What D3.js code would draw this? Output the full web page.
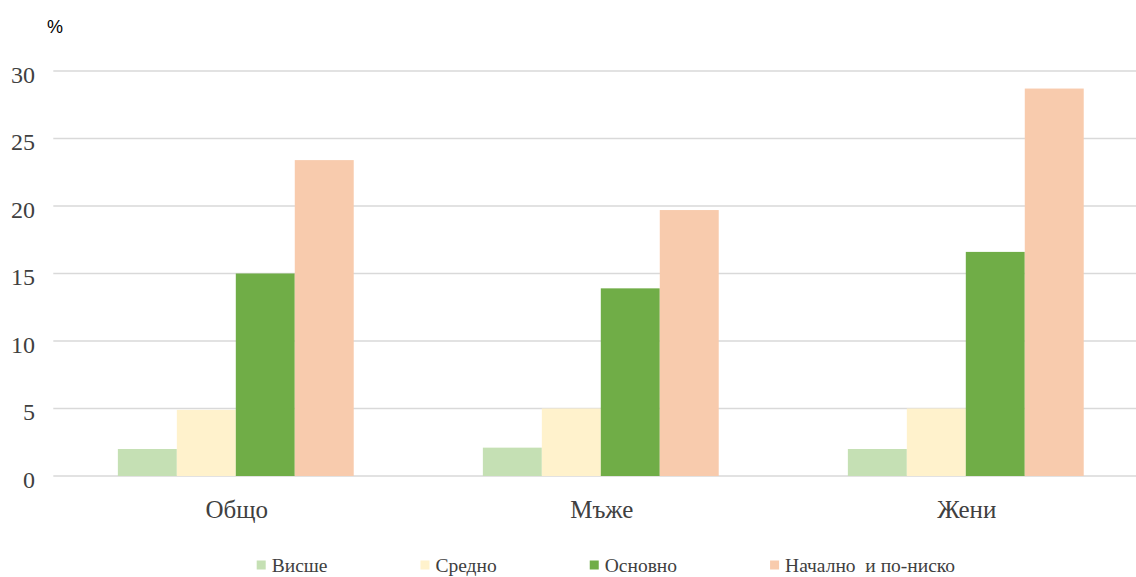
<!DOCTYPE html>
<html><head><meta charset="utf-8">
<script src="https://cdn.jsdelivr.net/npm/d3@7"></script>
<style>html,body{margin:0;padding:0;background:#fff;overflow:hidden}</style>
</head><body>
<svg id="c" width="1136" height="577"></svg>
<script>
const categories = ["Общо", "Мъже", "Жени"];
const seriesNames = ["Висше", "Средно", "Основно", "Начално  и по-ниско"];
const vVisshe  = [2.0, 2.1, 2.0];
const vSredno  = [4.9, 5.0, 5.0];
const vOsnovno = [15.0, 13.9, 16.6];
const vNachalno = [23.4, 19.7, 28.7];
const yTicks = [0, 5, 10, 15, 20, 25, 30];
const colors = ["#c5e0b4", "#fff2cc", "#70ad47", "#f8cbad"];
const values = [vVisshe, vSredno, vOsnovno, vNachalno];

const svg = d3.select("#c");
const mLeft = 53.3, mRight = 1148.3, mTop = 71, mBottom = 476;
const y = d3.scaleLinear().domain([0, 30]).range([mBottom, mTop]);
const x0 = d3.scaleBand().domain(categories).range([mLeft, mRight]).paddingInner(0).paddingOuter(0);
const x1 = d3.scaleBand().domain(seriesNames).range([0, x0.bandwidth()]).paddingInner(0).paddingOuter(1.095);

// gridlines
svg.append("g").selectAll("line").data(yTicks).join("line")
  .attr("x1", mLeft).attr("x2", 1136)
  .attr("y1", d => y(d)).attr("y2", d => y(d))
  .attr("stroke", "#d9d9d9").attr("stroke-width", 1.6);

// y tick labels
svg.append("g").selectAll("text").data(yTicks).join("text")
  .attr("x", 35).attr("y", d => y(d) + 11.5)
  .attr("text-anchor", "end")
  .attr("font-family", "'Liberation Serif', serif").attr("font-size", 24)
  .attr("fill", "#404040").text(d => d);

// bars
const g = svg.append("g");
seriesNames.forEach((s, si) => {
  g.append("g").selectAll("rect").data(categories).join("rect")
    .attr("x", c => x0(c) + x1(s))
    .attr("width", x1.bandwidth())
    .attr("y", (c, i) => y(values[si][i]))
    .attr("height", (c, i) => y(0) - y(values[si][i]))
    .attr("fill", colors[si]);
});

// category labels
svg.append("g").selectAll("text").data(categories).join("text")
  .attr("x", c => x0(c) + x0.bandwidth() / 2 + 1)
  .attr("y", 518)
  .attr("text-anchor", "middle")
  .attr("font-family", "'Liberation Serif', serif").attr("font-size", 25)
  .attr("fill", "#404040").text(c => c);

// % label
svg.append("text").attr("x", 47).attr("y", 33)
  .attr("font-family", "'Liberation Sans', Arial, sans-serif").attr("font-size", 18)
  .attr("fill", "#000").text("%");

// legend
const lg = svg.append("g");
let lx = 256.7;
seriesNames.forEach((s, i) => {
  lg.append("rect").attr("x", lx).attr("y", 560.5).attr("width", 9).attr("height", 9).attr("fill", colors[i]);
  const t = lg.append("text").attr("x", lx + 15).attr("y", 572)
    .attr("font-family", "'Liberation Serif', serif").attr("font-size", 19.5)
    .attr("fill", "#404040").style("white-space", "pre").text(s);
  lx += 15 + t.node().getComputedTextLength() + 93;
});
</script>
</body></html>
